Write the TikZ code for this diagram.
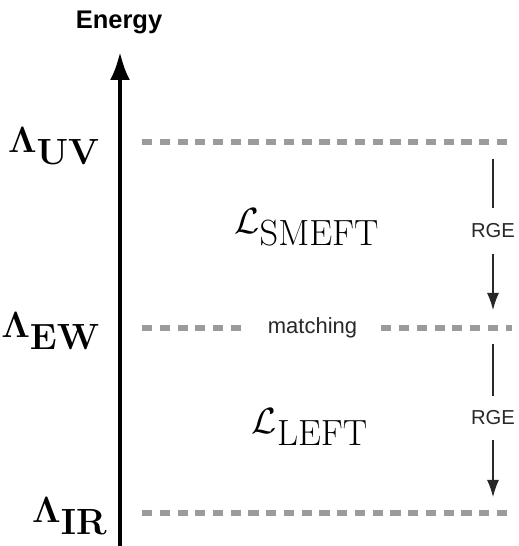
\documentclass[tikz,border=0pt]{standalone}
\usepackage[no-math]{fontspec}
\usepackage{xcolor}
\usepackage{tikz}
\usetikzlibrary{positioning,arrows.meta}
\newfontfamily\arialfont{Liberation Sans}
\definecolor{scalegray}{RGB}{155,155,155}
\definecolor{labeldark}{RGB}{40,40,40}

\begin{document}
\begin{tikzpicture}[
      every node/.style={inner sep=0pt},
      scaleline/.style={scalegray, line width=3pt, dash pattern=on 5.7pt off 4.4pt},
      scalelabel/.style={anchor=east, font=\fontsize{20.74}{24}\selectfont},
      lagrnode/.style={font=\fontsize{20.74}{24}\selectfont},
      rgenode/.style={font=\arialfont\fontsize{11.5}{13}\selectfont, text=labeldark},
      rgeline/.style={line width=0.7pt, labeldark}
    ]
      \useasboundingbox (0,0) rectangle (10.36,10.92);

      % energy axis
      \coordinate (axbot) at (2.4,0);
      \coordinate (axtop) at (2.4,9.88);
      \draw[line width=2.3pt, -{Latex[length=0.56cm, width=0.4cm]}] (axbot) -- (axtop);
      \node[font=\arialfont\bfseries\fontsize{14.5}{17}\selectfont] (energy) at (2.38,10.47) {Energy};

      % scales
      \node[scalelabel] (uv) at (2.02,8.0) {$\mathbf{\Lambda}_{\textstyle\mathbf{UV}}$};
      \node[scalelabel] (ew) at (2.02,4.3) {$\mathbf{\Lambda}_{\textstyle\mathbf{EW}}$};
      \node[scalelabel] (ir) at (2.16,0.6) {$\mathbf{\Lambda}_{\textstyle\mathbf{IR}}$};

      % dashed lines
      \coordinate (uvL) at (2.84,8.08);
      \coordinate (uvR) at (10.24,8.08);
      \draw[scaleline] (uvL) -- (uvR);

      \coordinate (ewL) at (2.84,4.36);
      \coordinate (ewR) at (10.24,4.36);
      \node[rgenode, font=\arialfont\fontsize{12.5}{14}\selectfont, minimum width=2.74cm] (match) at (6.25,4.36) {matching};
      \draw[scaleline] (ewL) -- (match.west);
      \draw[scaleline] (match.east) -- (ewR);

      \coordinate (irL) at (2.84,0.66);
      \coordinate (irR) at (10.24,0.66);
      \draw[scaleline] (irL) -- (irR);

      % Lagrangians
      \node[lagrnode] (smeft) at (6.14,6.38) {$\mathcal{L}_{\textstyle\mathrm{SMEFT}}$};
      \node[lagrnode] (left) at (6.2,2.38) {$\mathcal{L}_{\textstyle\mathrm{LEFT}}$};

      % RGE running
      \coordinate (r1a) at (9.86,7.74);
      \node[rgenode, minimum height=0.9cm] (rge1) at (9.86,6.3) {RGE};
      \coordinate (r1b) at (9.86,4.72);
      \draw[rgeline] (r1a) -- (rge1.north);
      \draw[rgeline, -{Latex[length=0.34cm, width=0.24cm]}] (rge1.south) -- (r1b);

      \coordinate (r2a) at (9.86,4.04);
      \node[rgenode, minimum height=0.88cm] (rge2) at (9.86,2.56) {RGE};
      \coordinate (r2b) at (9.86,0.98);
      \draw[rgeline] (r2a) -- (rge2.north);
      \draw[rgeline, -{Latex[length=0.34cm, width=0.24cm]}] (rge2.south) -- (r2b);
    \end{tikzpicture}
\end{document}
